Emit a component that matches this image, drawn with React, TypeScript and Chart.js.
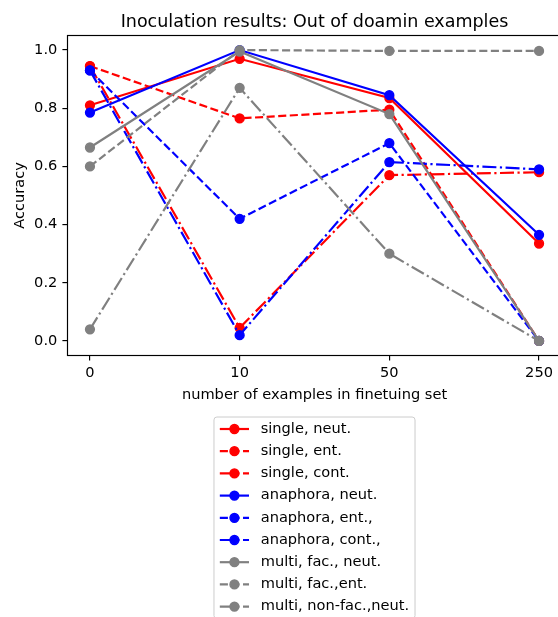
import React, { useEffect, useRef } from 'react';
import { Chart, registerables } from 'chart.js';

Chart.register(...registerables);

// ---- data ----
const categories = ['0', '10', '50', '250'];
const yTickValues = [0, 0.2, 0.4, 0.6, 0.8, 1.0];
const titleText = 'Inoculation results: Out of doamin examples';
const xLabel = 'number of examples in finetuing set';
const yLabel = 'Accuracy';

const seriesNames = [
  'single, neut.',
  'single, ent.',
  'single, cont.',
  'anaphora, neut.',
  'anaphora, ent.,',
  'anaphora, cont.,',
  'multi, fac., neut.',
  'multi, fac.,ent.',
  'multi, non-fac.,neut.',
];

const singleNeut = [0.81, 0.97, 0.835, 0.335];
const singleEnt = [0.945, 0.765, 0.795, 0.0];
const singleCont = [0.945, 0.045, 0.57, 0.58];
const anaphoraNeut = [0.785, 1.0, 0.845, 0.365];
const anaphoraEnt = [0.93, 0.42, 0.68, 0.0];
const anaphoraCont = [0.93, 0.02, 0.615, 0.59];
const multiFacNeut = [0.665, 0.995, 0.78, 0.0];
const multiFacEnt = [0.6, 1.0, 0.997, 0.997];
const multiNonFacNeut = [0.04, 0.87, 0.3, 0.0];

const seriesValues = [
  singleNeut, singleEnt, singleCont,
  anaphoraNeut, anaphoraEnt, anaphoraCont,
  multiFacNeut, multiFacEnt, multiNonFacNeut,
];

// ---- styles ----
const RED = '#ff0000';
const BLUE = '#0000ff';
const GRAY = '#808080';
const seriesColors = [RED, RED, RED, BLUE, BLUE, BLUE, GRAY, GRAY, GRAY];
const LW = 2.19;
const DASHED = [8.1, 3.5];
const DASHDOT = [14.0, 3.5, 2.19, 3.5];
const seriesDash = [[], DASHED, DASHDOT, [], DASHED, DASHDOT, [], DASHED, DASHDOT];

const FONT = "'DejaVu Sans', 'Liberation Sans', sans-serif";
const FS = 14.6;
const TITLE_FS = 17.5;
const TEXT_COLOR = '#000';

const titlePlugin = {
  id: 'mplTitle',
  afterDraw(chart: any) {
    const { ctx, chartArea } = chart;
    ctx.save();
    ctx.font = `${TITLE_FS}px ${FONT}`;
    ctx.fillStyle = TEXT_COLOR;
    ctx.textAlign = 'center';
    ctx.textBaseline = 'alphabetic';
    ctx.fillText(titleText, (chartArea.left + chartArea.right) / 2, chartArea.top - 8.75);
    ctx.restore();
  },
};

const framePlugin = {
  id: 'mplFrame',
  afterDatasetsDraw(chart: any) {
    const { ctx, chartArea } = chart;
    ctx.save();
    ctx.strokeStyle = '#000';
    ctx.lineWidth = 1.17;
    ctx.setLineDash([]);
    ctx.strokeRect(chartArea.left, chartArea.top, chartArea.right - chartArea.left, chartArea.bottom - chartArea.top);
    ctx.restore();
  },
};

const legendPlugin = {
  id: 'mplLegend',
  afterDraw(chart: any) {
    const { ctx, chartArea } = chart;
    const datasets = chart.data.datasets;
    ctx.save();
    ctx.font = `${FS}px ${FONT}`;
    const pad = 0.4 * FS;
    const handleLen = 2 * FS;
    const handleGap = 0.8 * FS;
    const rowH = 22.2;
    let maxW = 0;
    datasets.forEach((d: any) => { maxW = Math.max(maxW, ctx.measureText(d.label).width); });
    const width = pad + handleLen + handleGap + maxW + pad;
    const cx = (chartArea.left + chartArea.right) / 2;
    const left = cx - width / 2;
    const top = 417;
    const firstY = top + 12;
    const height = (firstY - top) * 2 + rowH * (datasets.length - 1);
    // box
    const r = 0.2 * FS;
    ctx.beginPath();
    ctx.moveTo(left + r, top);
    ctx.lineTo(left + width - r, top);
    ctx.quadraticCurveTo(left + width, top, left + width, top + r);
    ctx.lineTo(left + width, top + height - r);
    ctx.quadraticCurveTo(left + width, top + height, left + width - r, top + height);
    ctx.lineTo(left + r, top + height);
    ctx.quadraticCurveTo(left, top + height, left, top + height - r);
    ctx.lineTo(left, top + r);
    ctx.quadraticCurveTo(left, top, left + r, top);
    ctx.closePath();
    ctx.fillStyle = 'rgba(255,255,255,0.8)';
    ctx.fill();
    ctx.strokeStyle = '#cccccc';
    ctx.lineWidth = 1;
    ctx.stroke();

    datasets.forEach((d: any, i: number) => {
      const y = firstY + i * rowH;
      const hx = left + pad;
      ctx.strokeStyle = d.borderColor;
      ctx.lineWidth = d.borderWidth;
      ctx.setLineDash(d.borderDash || []);
      ctx.beginPath();
      ctx.moveTo(hx, y);
      ctx.lineTo(hx + handleLen, y);
      ctx.stroke();
      ctx.setLineDash([]);
      ctx.beginPath();
      ctx.arc(hx + handleLen / 2, y, d.pointRadius, 0, Math.PI * 2);
      ctx.fillStyle = d.pointBackgroundColor;
      ctx.fill();
      ctx.lineWidth = d.pointBorderWidth;
      ctx.strokeStyle = d.pointBorderColor;
      ctx.stroke();
      ctx.fillStyle = TEXT_COLOR;
      ctx.textAlign = 'left';
      ctx.textBaseline = 'middle';
      ctx.fillText(d.label, hx + handleLen + handleGap, y);
    });
    ctx.restore();
  },
};

export default function App() {
  const ref = useRef<HTMLCanvasElement>(null);

  useEffect(() => {
    const canvas = ref.current;
    if (!canvas) return;
    const n = seriesValues.length;
    const datasets = seriesValues.map((vals, i) => ({
      label: seriesNames[i],
      data: vals.map((v, j) => ({ x: j, y: v })),
      borderColor: seriesColors[i],
      backgroundColor: seriesColors[i],
      borderWidth: LW,
      borderDash: seriesDash[i],
      pointRadius: 4.4,
      pointHoverRadius: 4.4,
      pointBorderWidth: 1.46,
      pointBackgroundColor: seriesColors[i],
      pointBorderColor: seriesColors[i],
      tension: 0,
      fill: false,
      clip: false as any,
      order: n - i,
    }));

    const chart = new Chart(canvas, {
      type: 'line',
      data: { datasets },
      options: {
        animation: false,
        responsive: false,
        devicePixelRatio: 1,
        events: [],
        layout: { padding: { left: 0, top: 35.5, right: 18.5, bottom: 617 - 355.5 - 60 } },
        plugins: {
          legend: { display: false },
          title: { display: false },
          tooltip: { enabled: false },
        },
        scales: {
          x: {
            type: 'linear',
            min: -0.15,
            max: 3.15,
            afterBuildTicks: (axis: any) => {
              axis.ticks = categories.map((_, i) => ({ value: i }));
            },
            afterFit: (axis: any) => { axis.height = 60; },
            ticks: {
              callback: (v: any) => categories[Math.round(Number(v))] ?? '',
              color: TEXT_COLOR,
              font: { family: FONT, size: FS },
              padding: 3.5,
              maxRotation: 0,
              autoSkip: false,
            },
            grid: {
              display: true,
              drawOnChartArea: false,
              drawTicks: true,
              tickLength: 5.1,
              color: '#000',
              lineWidth: 1.17,
            },
            border: { display: false },
            title: {
              display: true,
              text: xLabel,
              color: TEXT_COLOR,
              font: { family: FONT, size: FS },
              padding: { top: 0, bottom: 12 },
            },
          },
          y: {
            type: 'linear',
            min: -0.05,
            max: 1.05,
            afterBuildTicks: (axis: any) => {
              axis.ticks = yTickValues.map((v) => ({ value: v }));
            },
            afterFit: (axis: any) => { axis.width = 67.5; },
            ticks: {
              callback: (v: any) => Number(v).toFixed(1),
              color: TEXT_COLOR,
              font: { family: FONT, size: FS },
              padding: 5.1,
              autoSkip: false,
            },
            grid: {
              display: true,
              drawOnChartArea: false,
              drawTicks: true,
              tickLength: 5.1,
              color: '#000',
              lineWidth: 1.17,
            },
            border: { display: false },
            title: {
              display: true,
              text: yLabel,
              color: TEXT_COLOR,
              font: { family: FONT, size: FS },
              padding: { top: 11.2, bottom: 0 },
            },
          },
        },
      },
      plugins: [framePlugin, titlePlugin, legendPlugin],
    } as any);

    return () => chart.destroy();
  }, []);

  return (
    <div
      style={{
        position: 'fixed',
        left: 0,
        top: 0,
        width: 558,
        height: 617,
        overflow: 'hidden',
        background: '#ffffff',
      }}
    >
      <canvas ref={ref} width={580} height={617} style={{ display: 'block', width: 580, height: 617 }} />
    </div>
  );
}
